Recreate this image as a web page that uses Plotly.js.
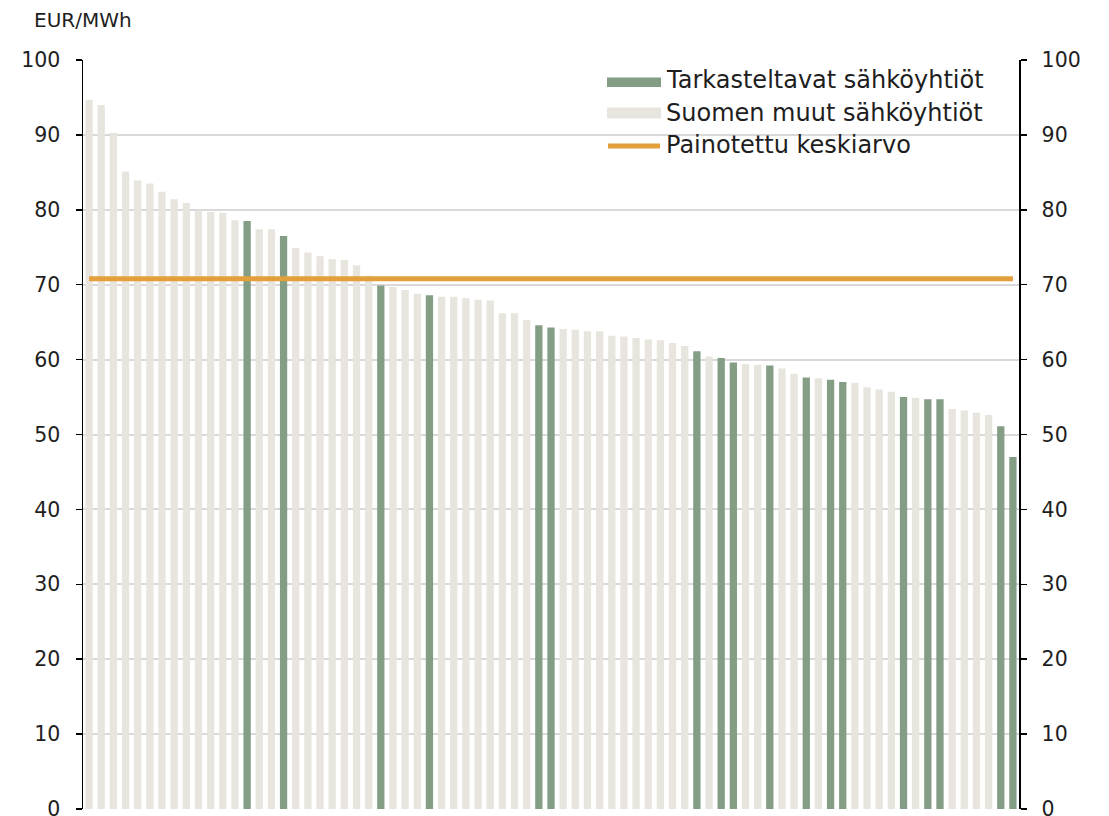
<!DOCTYPE html>
<html>
<head>
<meta charset="utf-8">
<script src="https://cdn.plot.ly/plotly-3.0.1.min.js"></script>
<style>
html,body{margin:0;padding:0;background:#fff;overflow:hidden;}
#chart{width:1109px;height:830px;}
</style>
</head>
<body>
<div id="chart"></div>
<script>
// Price per company (EUR/MWh), sorted descending
const prices = [
  94.7, 94.0, 90.3, 85.1, 83.9, 83.5, 82.4, 81.4, 80.9, 79.9,
  79.7, 79.6, 78.6, 78.5, 77.4, 77.4, 76.5, 74.9, 74.3, 73.8,
  73.4, 73.3, 72.6, 71.2, 69.9, 69.7, 69.3, 68.8, 68.6, 68.4,
  68.4, 68.2, 68.0, 67.9, 66.2, 66.2, 65.3, 64.6, 64.3, 64.1,
  64.0, 63.8, 63.8, 63.2, 63.1, 62.9, 62.7, 62.6, 62.2, 61.8,
  61.1, 60.4, 60.2, 59.6, 59.4, 59.3, 59.2, 58.8, 58.1, 57.6,
  57.5, 57.3, 57.0, 56.9, 56.3, 56.0, 55.7, 55.0, 54.9, 54.7,
  54.7, 53.4, 53.2, 52.9, 52.6, 51.1, 47.0
];
// 1 = reviewed company (Tarkasteltavat), 0 = other Finnish company
const reviewed = [
  0,0,0,0,0,0,0,0,0,0,
  0,0,0,1,0,0,1,0,0,0,
  0,0,0,0,1,0,0,0,1,0,
  0,0,0,0,0,0,0,1,1,0,
  0,0,0,0,0,0,0,0,0,0,
  1,0,1,1,0,0,1,0,0,1,
  0,1,1,0,0,0,0,1,0,1,
  1,0,0,0,0,1,1
];
const weightedAverage = 70.8;
const seriesNames = ["Tarkasteltavat sähköyhtiöt", "Suomen muut sähköyhtiöt", "Painotettu keskiarvo"];
const unitLabel = "EUR/MWh";
const yTicks = [0,10,20,30,40,50,60,70,80,90,100];

const colGreen = "#849E86";
const colLight = "#E8E5DF";
const colOrange = "#E3A03A";
const textCol = "#1e1e1e";
const font = "DejaVu Sans, Verdana, sans-serif";

const idx = prices.map((_, i) => i);
const greenY = prices.map((v, i) => reviewed[i] ? v : null);
const lightY = prices.map((v, i) => reviewed[i] ? null : v);

const traces = [
  {type: "bar", x: idx, y: lightY, name: seriesNames[1], marker: {color: colLight}, showlegend: false, hoverinfo: "y"},
  {type: "bar", x: idx, y: greenY, name: seriesNames[0], marker: {color: colGreen}, showlegend: false, hoverinfo: "y"},
  {type: "scatter", mode: "lines", x: [idx[0], idx[idx.length - 1]], y: [weightedAverage, weightedAverage], yaxis: "y2",
   name: seriesNames[2], line: {color: colOrange, width: 5}, showlegend: false, hoverinfo: "y"}
];

// plot area geometry (pixels)
const L = 83, R = 1019, T = 60, B = 809, W = 1109, H = 830;
const px = p => (p - L) / (R - L);
const py = p => (B - p) / (B - T);

const shapes = [
  {type: "rect", xref: "paper", yref: "paper", x0: px(607), x1: px(661), y0: py(87), y1: py(77.5), line: {width: 0}, fillcolor: colGreen},
  {type: "rect", xref: "paper", yref: "paper", x0: px(607), x1: px(661), y0: py(118.5), y1: py(107.5), line: {width: 0}, fillcolor: colLight},
  {type: "line", xref: "paper", yref: "paper", x0: px(608), x1: px(660), y0: py(146), y1: py(146), line: {width: 5, color: colOrange}}
];
const legendFont = {family: font, size: 24, color: textCol};
const annotations = [
  {xref: "paper", yref: "paper", x: px(664), y: py(80), xanchor: "left", yanchor: "middle", showarrow: false, text: seriesNames[0], font: legendFont},
  {xref: "paper", yref: "paper", x: px(664), y: py(113), xanchor: "left", yanchor: "middle", showarrow: false, text: seriesNames[1], font: legendFont},
  {xref: "paper", yref: "paper", x: px(664), y: py(145), xanchor: "left", yanchor: "middle", showarrow: false, text: seriesNames[2], font: legendFont},
  {xref: "paper", yref: "paper", x: px(32), y: py(20), xanchor: "left", yanchor: "middle", showarrow: false, text: unitLabel, font: {family: font, size: 20, color: textCol}}
];

const yCommon = {
  range: [0, 100], tickvals: yTicks, ticktext: yTicks.map(String),
  ticks: "outside", ticklen: 6, tickwidth: 1.5, tickcolor: "#000",
  showline: true, linecolor: "#000", linewidth: 1.5,
  zeroline: false, fixedrange: true,
  tickfont: {family: font, size: 20.5, color: textCol}
};

const layout = {
  width: W, height: H,
  margin: {l: L, r: 1109 - R, t: T, b: H - B, pad: 0},
  paper_bgcolor: "#fff", plot_bgcolor: "#fff",
  barmode: "overlay", bargap: 0.4,
  showlegend: false,
  xaxis: {range: [-0.5, prices.length - 0.5], showticklabels: false, ticks: "", showline: false, showgrid: false, zeroline: false, fixedrange: true},
  yaxis: Object.assign({}, yCommon, {side: "left", showgrid: true, gridcolor: "#D9D9D9", gridwidth: 2, ticklabelstandoff: 11}),
  yaxis2: Object.assign({}, yCommon, {side: "right", overlaying: "y", showgrid: false, ticklabelstandoff: 11}),
  shapes: shapes,
  annotations: annotations
};

Plotly.newPlot("chart", traces, layout, {displayModeBar: false, staticPlot: true});
</script>
</body>
</html>
